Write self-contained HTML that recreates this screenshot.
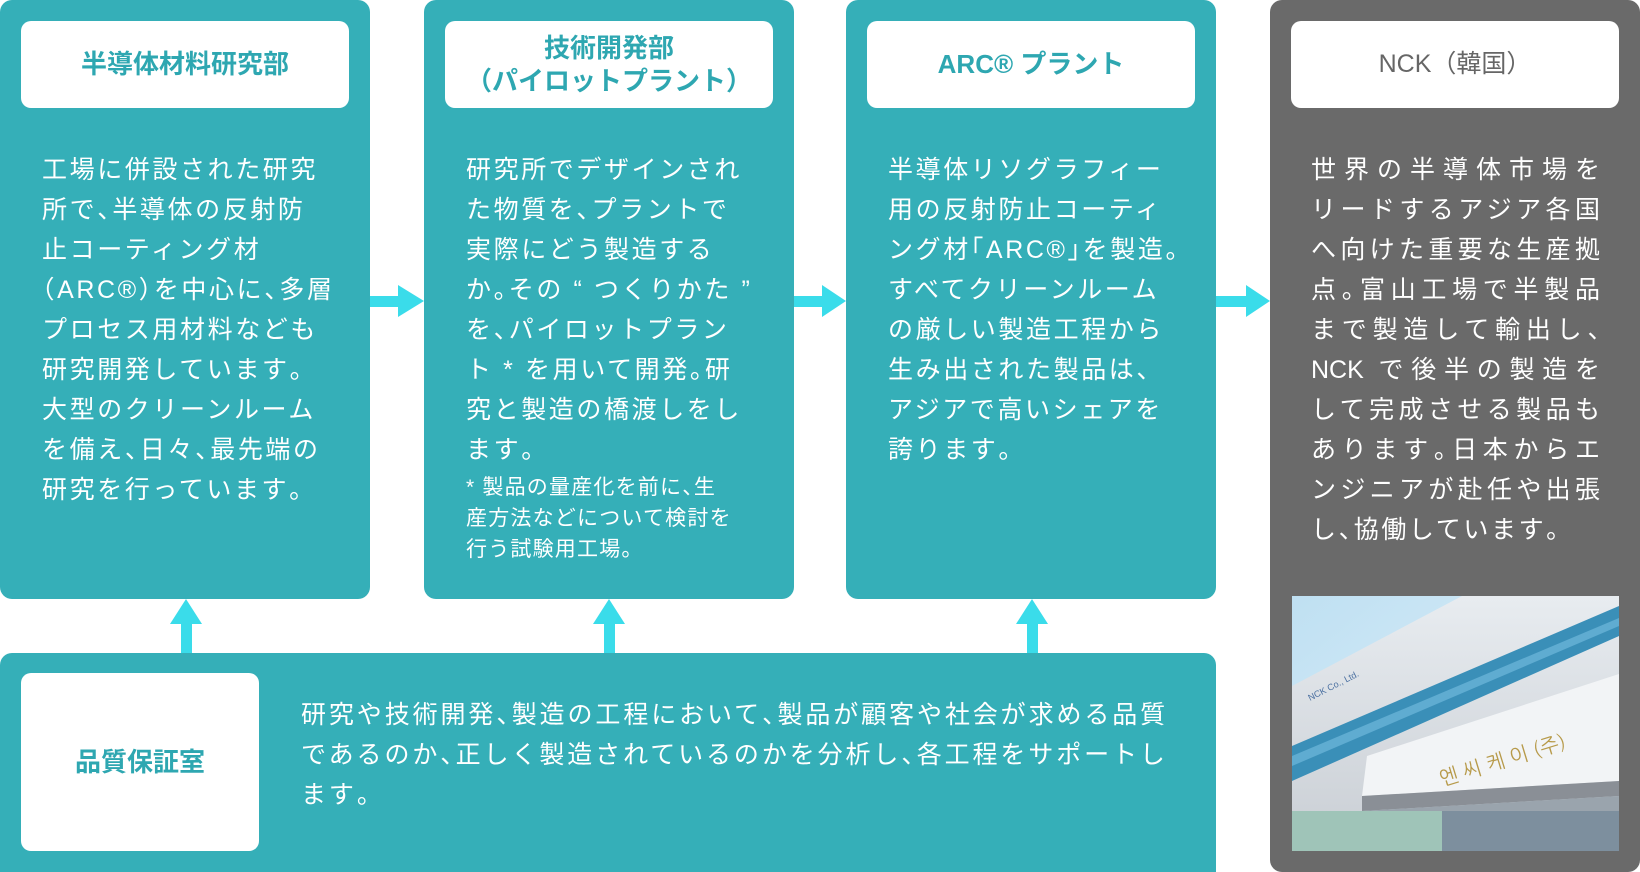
<!DOCTYPE html>
<html><head><meta charset="utf-8"><style>
body{margin:0;width:1640px;height:872px;background:#fff;position:relative;overflow:hidden;font-family:"Liberation Sans","Noto Sans CJK JP",sans-serif;}
.box{position:absolute;background:#35afb8;border-radius:12px;}
.gray{background:#6a6a6a;}
.hd{position:absolute;left:21px;top:21px;width:328px;height:87px;background:#fff;border-radius:10px;color:#2ea7b1;font-weight:bold;font-size:26px;display:flex;align-items:center;justify-content:center;text-align:center;line-height:33px;}
.gray .hd{color:#666;font-weight:normal;font-size:25px;}
.tx{position:absolute;left:42px;top:150px;color:#fff;font-size:25px;line-height:40px;letter-spacing:2.6px;white-space:nowrap;}
.j div{text-align-last:justify;width:289px;letter-spacing:0}
.fn{position:absolute;left:42px;top:472px;color:#fff;font-size:21px;line-height:31px;letter-spacing:1.2px;white-space:nowrap;}
.p{font-feature-settings:"halt";}
</style></head><body>
<div class="box" style="left:0;top:0;width:370px;height:599px">
 <div class="hd">半導体材料研究部</div>
 <div class="tx">工場に併設された研究<br>所で<span class="p">、</span>半導体の反射防<br>止コーティング材<br><span class="p">（</span>ARC®<span class="p">）</span>を中心に<span class="p">、</span>多層<br>プロセス用材料なども<br>研究開発しています<span class="p">。</span><br>大型のクリーンルーム<br>を備え<span class="p">、</span>日々<span class="p">、</span>最先端の<br>研究を行っています<span class="p">。</span></div>
</div>
<div class="box" style="left:424px;top:0;width:370px;height:599px">
 <div class="hd">技術開発部<br>（パイロットプラント）</div>
 <div class="tx">研究所でデザインされ<br>た物質を<span class="p">、</span>プラントで<br>実際にどう製造する<br>か<span class="p">。</span>その “ つくりかた ”<br>を<span class="p">、</span>パイロットプラン<br>ト * を用いて開発<span class="p">。</span>研<br>究と製造の橋渡しをし<br>ます<span class="p">。</span></div>
 <div class="fn">* 製品の量産化を前に<span class="p">、</span>生<br>産方法などについて検討を<br>行う試験用工場<span class="p">。</span></div>
</div>
<div class="box" style="left:846px;top:0;width:370px;height:599px">
 <div class="hd">ARC® プラント</div>
 <div class="tx">半導体リソグラフィー<br>用の反射防止コーティ<br>ング材<span class="p">「</span>ARC®<span class="p">」</span>を製造<span class="p">。</span><br>すべてクリーンルーム<br>の厳しい製造工程から<br>生み出された製品は<span class="p">、</span><br>アジアで高いシェアを<br>誇ります<span class="p">。</span></div>
</div>
<div class="box gray" style="left:1270px;top:0;width:370px;height:872px">
 <div class="hd">NCK（韓国）</div>
 <div class="tx j" style="left:41px;letter-spacing:0"><div>世界の半導体市場を</div><div>リードするアジア各国</div><div>へ向けた重要な生産拠</div><div>点<span class="p">。</span>富山工場で半製品</div><div>まで製造して輸出し<span class="p">、</span></div><div>NCK で後半の製造を</div><div>して完成させる製品も</div><div>あります<span class="p">。</span>日本からエ</div><div>ンジニアが赴任や出張</div><div style="text-align-last:left;letter-spacing:2.6px">し<span class="p">、</span>協働しています<span class="p">。</span></div></div>
 <svg style="position:absolute;left:22px;top:596px" width="327" height="255" viewBox="0 0 327 255">
  <defs><linearGradient id="sk" x1="0" y1="0" x2="1" y2="1"><stop offset="0" stop-color="#bfe0f2"/><stop offset="1" stop-color="#e6f3fb"/></linearGradient>
  <linearGradient id="wl" x1="0" y1="0" x2="0" y2="1"><stop offset="0" stop-color="#e8ecf0"/><stop offset="1" stop-color="#c9ced4"/></linearGradient></defs>
  <rect width="327" height="255" fill="url(#sk)"/>
  <polygon points="0,90 170,0 327,0 327,255 0,255" fill="url(#wl)"/>
  <polygon points="0,150 327,10 327,40 0,185" fill="#3a8fb8"/>
  <polygon points="0,160 327,22 327,30 0,170" fill="#6fb8dc" opacity=".7"/>
  <polygon points="75,160 327,78 327,185 70,200" fill="#f2f4f6"/>
  <polygon points="70,200 327,185 327,200 70,215" fill="#8a8f96"/>
  <polygon points="70,215 327,200 327,255 0,255 0,215" fill="#9aa4ad"/>
  <rect x="0" y="215" width="150" height="40" fill="#9fc4b8"/>
  <rect x="150" y="215" width="177" height="40" fill="#7d8f9e"/>
  <text x="150" y="190" transform="rotate(-17 150 190)" font-size="20" fill="#b79a4a" font-family="NanumGothic,sans-serif">엔 씨 케 이 (주)</text>
  <text x="18" y="105" transform="rotate(-27 18 105)" font-size="9" fill="#4a6fa0">NCK Co., Ltd.</text>
 </svg>
</div>
<div class="box" style="left:0;top:653px;width:1216px;height:219px;border-radius:12px 12px 0 0">
 <div class="hd" style="top:20px;width:238px;height:178px">品質保証室</div>
 <div style="position:absolute;left:301px;top:42px;color:#fff;font-size:25px;line-height:40px;letter-spacing:2.9px;white-space:nowrap">研究や技術開発<span class="p">、</span>製造の工程において<span class="p">、</span>製品が顧客や社会が求める品質<br>であるのか<span class="p">、</span>正しく製造されているのかを分析し<span class="p">、</span>各工程をサポートし<br>ます<span class="p">。</span></div>
</div>
<svg style="position:absolute;left:0;top:0" width="1640" height="872">
 <g fill="#3adcea">
  <rect x="370" y="296" width="30" height="11"/><polygon points="398,285 424,301 398,317"/>
  <rect x="794" y="296" width="30" height="11"/><polygon points="822,285 846,301 822,317"/>
  <rect x="1216" y="296" width="32" height="11"/><polygon points="1246,285 1270,301 1246,317"/>
  <rect x="181" y="622" width="11" height="31"/><polygon points="170,624 186,599 202,624"/>
  <rect x="604" y="622" width="11" height="31"/><polygon points="593,624 609,599 625,624"/>
  <rect x="1027" y="622" width="11" height="31"/><polygon points="1016,624 1032,599 1048,624"/>
 </g>
</svg>
</body></html>
